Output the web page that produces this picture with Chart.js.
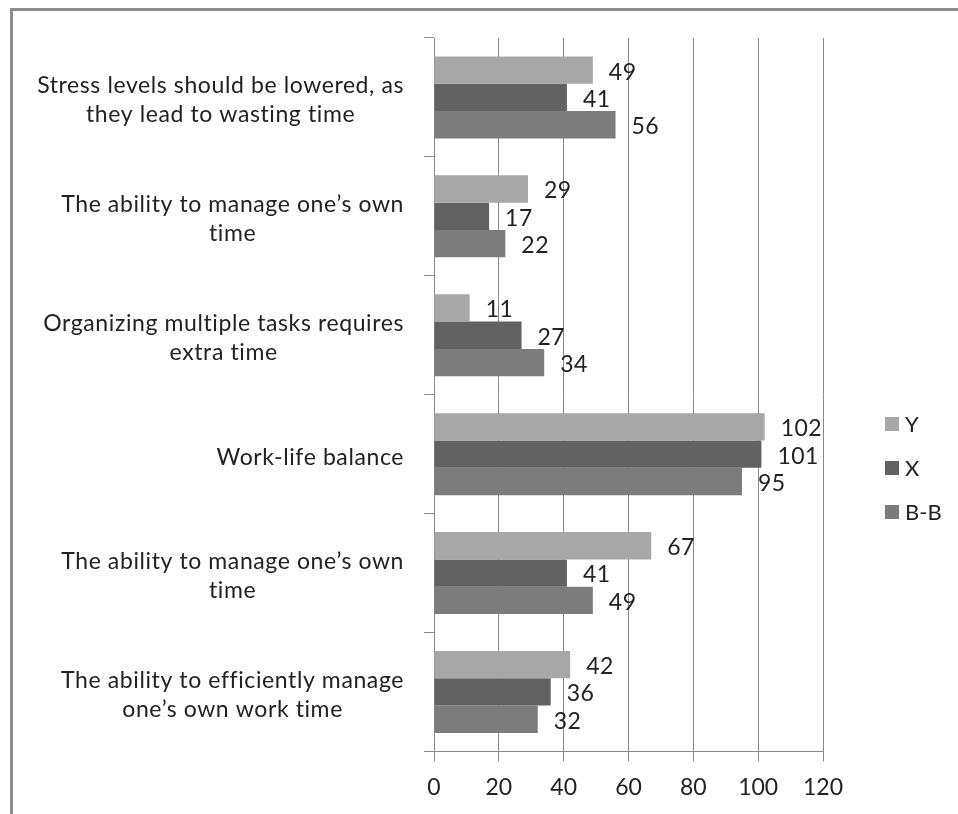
<!DOCTYPE html>
<html>
<head>
<meta charset="utf-8">
<script src="https://cdn.jsdelivr.net/npm/chart.js@4"></script>
<style>
  html, body { margin: 0; padding: 0; background: #fff; }
  #frame { position: absolute; left: 10px; top: 8px; right: 0; bottom: 0;
           border-left: 3px solid #8c8c8c; border-top: 3px solid #8c8c8c; }
  #chart { position: absolute; left: 0; top: 0; }
</style>
</head>
<body>
<div id="frame"></div>
<canvas id="chart" width="958" height="814"></canvas>
<script>
const categories = [
  ['Stress levels should be lowered, as', 'they lead to wasting time'],
  ['The ability to manage one\u2019s own', 'time'],
  ['Organizing multiple tasks requires', 'extra time'],
  ['Work-life balance'],
  ['The ability to manage one\u2019s own', 'time'],
  ['The ability to efficiently manage', 'one\u2019s own work time']
];
const seriesNames = ['Y', 'X', 'B-B'];
const valuesY = [49, 29, 11, 102, 67, 42];
const valuesX = [41, 17, 27, 101, 41, 36];
const valuesBB = [56, 22, 34, 95, 49, 32];
const xMin = 0, xMax = 120, xStep = 20;

const colors = ['#a7a7a7', '#626262', '#7c7c7c'];
const FONT = 'Lato';
const TEXT = '#222';

// category labels: each block centred on itself, block right-aligned to the axis
const catLabels = {
  id: 'catLabels',
  afterDraw(chart) {
    const y = chart.scales.y, ctx = chart.ctx;
    ctx.save();
    ctx.font = '23px ' + FONT;
    ctx.letterSpacing = '0.6px';
    ctx.fillStyle = TEXT;
    ctx.textAlign = 'center';
    ctx.textBaseline = 'middle';
    const right = 404, lh = 29;
    chart.data.labels.forEach((lines, i) => {
      const cy = y.getPixelForValue(i) + 3;
      const w = Math.max(...lines.map(l => ctx.measureText(l).width));
      const cx = right - w / 2;
      const top = cy - (lines.length - 1) * lh / 2;
      lines.forEach((l, j) => ctx.fillText(l, cx, top + j * lh));
    });
    ctx.restore();
  }
};

// value labels to the right of each bar
const valueLabels = {
  id: 'valueLabels',
  afterDatasetsDraw(chart) {
    const ctx = chart.ctx;
    ctx.save();
    ctx.font = '23px ' + FONT;
    ctx.letterSpacing = '0.5px';
    ctx.fillStyle = TEXT;
    ctx.textAlign = 'left';
    ctx.textBaseline = 'middle';
    chart.data.datasets.forEach((ds, di) => {
      chart.getDatasetMeta(di).data.forEach((bar, i) => {
        ctx.fillText(String(ds.data[i]), bar.x + 16, bar.y + 2);
      });
    });
    ctx.restore();
  }
};

const sideLegend = {
  id: 'sideLegend',
  afterDraw(chart) {
    const ctx = chart.ctx;
    ctx.save();
    ctx.font = '22px ' + FONT;
    ctx.textBaseline = 'middle';
    chart.data.datasets.forEach((ds, i) => {
      const cy = 424 + i * 44;
      ctx.fillStyle = ds.backgroundColor;
      ctx.fillRect(885, cy - 7, 14, 14);
      ctx.fillStyle = TEXT;
      ctx.fillText(ds.label, 905, cy + 1);
    });
    ctx.restore();
  }
};

new Chart(document.getElementById('chart'), {
  type: 'bar',
  plugins: [catLabels, valueLabels, sideLegend],
  data: {
    labels: categories,
    datasets: [
      { label: seriesNames[0], data: valuesY, backgroundColor: colors[0] },
      { label: seriesNames[1], data: valuesX, backgroundColor: colors[1] },
      { label: seriesNames[2], data: valuesBB, backgroundColor: colors[2] }
    ]
  },
  options: {
    indexAxis: 'y',
    responsive: false,
    animation: false,
    devicePixelRatio: 1,
    categoryPercentage: 0.69,
    barPercentage: 1.0,
    layout: { padding: { top: 38, right: 135, bottom: 1, left: 0 } },
    plugins: { legend: { display: false }, tooltip: { enabled: false } },
    scales: {
      x: {
        min: xMin, max: xMax,
        ticks: { stepSize: xStep, color: TEXT, padding: 12, font: { family: FONT, size: 23 } },
        grid: { color: '#8a8a8a', lineWidth: 1, tickLength: 10 },
        border: { color: '#8a8a8a' }
      },
      y: {
        ticks: { display: false },
        grid: { drawOnChartArea: false, color: '#8a8a8a', tickLength: 10 },
        border: { color: '#8a8a8a' },
        afterFit(scale) { scale.width = 434; }
      }
    }
  }
});
</script>
</body>
</html>
